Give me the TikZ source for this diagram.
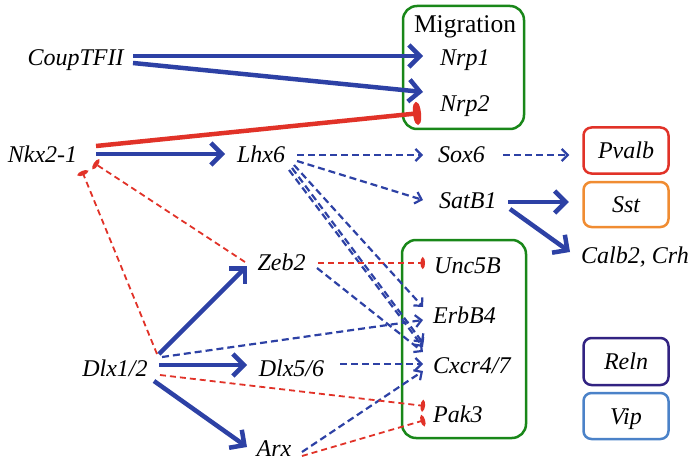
\documentclass[tikz,border=0pt]{standalone}
\usepackage{fontspec}
\setmainfont{Liberation Serif}
\usetikzlibrary{arrows.meta}
\definecolor{cblue}{RGB}{45,65,165}
\definecolor{cred}{RGB}{225,50,40}
\definecolor{cgreen}{RGB}{25,135,25}
\definecolor{corange}{RGB}{240,140,50}
\definecolor{cpurple}{RGB}{50,35,130}
\definecolor{clight}{RGB}{75,130,200}
\begin{document}
\begin{tikzpicture}[x=1pt,y=-1pt,
  lbl/.style={inner sep=0pt, font=\fontsize{24}{28}\selectfont\itshape},
  groupbox/.style={draw=cgreen, line width=2.5pt, rounded corners=14pt, inner sep=0pt},
  cellbox/.style={draw=#1, line width=2.5pt, rounded corners=8pt, minimum width=85pt, inner sep=0pt,
     font=\fontsize{24}{28}\selectfont\itshape, text height=16pt, text depth=0pt},
  actline/.style={draw=cblue, line width=4.5pt, -{Straight Barb[length=11pt,width=22pt]}},
  actdash/.style={draw=cblue, line width=2.2pt, dash pattern=on 7pt off 4pt, -{Straight Barb[length=6pt,width=12pt]}},
  inhline/.style={draw=cred, line width=4.5pt, -{Ellipse[length=8pt,width=22pt]}},
  inhdash/.style={draw=cred, line width=1.8pt, dash pattern=on 6pt off 4pt, -{Ellipse[length=4.5pt,width=11pt]}}
]
\useasboundingbox (0,0) rectangle (689,460);

% group boxes
\node[groupbox, minimum width=121pt, minimum height=123pt] (migbox) at (463.5,67.5) {};
\node[groupbox, minimum width=124pt, minimum height=198pt] (lowbox) at (464,339) {};
\node[inner sep=0pt, anchor=base, font=\fontsize{25.5}{30}\selectfont] (migr) at (465,33) {Migration};

% gene nodes
\node[lbl, anchor=base] (CoupTFII) at (75.5,66) {CoupTFII};
\node[lbl, anchor=base] (Nkx) at (42.5,162) {Nkx2-1};
\node[lbl, anchor=base] (Lhx6) at (261,162) {Lhx6};
\node[lbl, anchor=base] (Zeb2) at (281.5,270) {Zeb2};
\node[lbl, anchor=base] (Dlx12) at (115,376) {Dlx1/2};
\node[lbl, anchor=base] (Dlx56) at (291.5,376) {Dlx5/6};
\node[lbl, anchor=base] (Arx) at (274,456) {Arx};
\node[lbl, anchor=base west] (Nrp1) at (440,66) {Nrp1};
\node[lbl, anchor=base west] (Nrp2) at (440,111) {Nrp2};
\node[lbl, anchor=base west] (Sox6) at (438,162) {Sox6};
\node[lbl, anchor=base west] (SatB1) at (439,208) {SatB1};
\node[lbl, anchor=base west] (Unc5B) at (434,273) {Unc5B};
\node[lbl, anchor=base west] (ErbB4) at (433,323) {ErbB4};
\node[lbl, anchor=base west] (Cxcr) at (433,373) {Cxcr4/7};
\node[lbl, anchor=base west] (Pak3) at (433,422) {Pak3};
\node[lbl, anchor=base west] (Calb2) at (581,263) {Calb2, Crh};

% cell type boxes
\node[cellbox=cred, minimum height=46pt] (Pvalb) at (626,150.5) {Pvalb};
\node[cellbox=corange, minimum height=45pt] (Sst) at (626,204.5) {Sst};
\node[cellbox=cpurple, minimum height=47pt] (Reln) at (626,361.5) {Reln};
\node[cellbox=clight, minimum height=46pt] (Vip) at (626,416) {Vip};

% solid activations
\draw[actline] ([shift={(57.5,-10)}]CoupTFII.base) -- ([shift={(-17,-10)}]Nrp1.base west);
\draw[actline] ([shift={(57.5,-3)}]CoupTFII.base) -- ([shift={(-17,-19)}]Nrp2.base west);
\draw[actline] ([shift={(53.5,-8)}]Nkx.base) -- ([shift={(-36,-8)}]Lhx6.base);
\draw[actline] ([shift={(69,-6)}]SatB1.base west) -- ([shift={(-13.5,-2.5)}]Sst.west);
\draw[actline] ([shift={(71,1)}]SatB1.base west) -- ([shift={(-11,-11)}]Calb2.base west);
\draw[actline] ([shift={(44,-22)}]Dlx12.base) -- ([shift={(-34.5,-4)}]Zeb2.base);
\draw[actline] ([shift={(44,-11)}]Dlx12.base) -- ([shift={(-44.5,-11)}]Dlx56.base);
\draw[actline] ([shift={(39,5)}]Dlx12.base) -- ([shift={(-27,-9)}]Arx.base);

% solid inhibition
\draw[inhline] ([shift={(53.5,-16)}]Nkx.base) -- ([shift={(-19,2)}]Nrp2.base west);

% dashed activations
\draw[actdash] ([shift={(36,-7)}]Lhx6.base) -- ([shift={(-15,-7)}]Sox6.base west);
\draw[actdash] ([shift={(36,-1)}]Lhx6.base) -- ([shift={(-16,-8)}]SatB1.base west);
\draw[actdash] ([shift={(65,-7)}]Sox6.base west) -- ([shift={(-13,4.5)}]Pvalb.west);
\draw[actdash] ([shift={(33,3)}]Lhx6.base) -- ([shift={(-10,-16)}]ErbB4.base west);
\draw[actdash] ([shift={(31,6)}]Lhx6.base) -- ([shift={(-10,-30)}]Cxcr.base west);
\draw[actdash] ([shift={(28,8)}]Lhx6.base) -- ([shift={(-10,-26)}]Cxcr.base west);
\draw[actdash] ([shift={(35.5,-2)}]Zeb2.base) -- ([shift={(-10,-21)}]Cxcr.base west);
\draw[actdash] ([shift={(47,-19)}]Dlx12.base) -- ([shift={(-10,-3)}]ErbB4.base west);
\draw[actdash] ([shift={(48.5,-12)}]Dlx56.base) -- ([shift={(-10,-9)}]Cxcr.base west);
\draw[actdash] ([shift={(28,-4)}]Arx.base) -- ([shift={(-10,-2)}]Cxcr.base west);

% dashed inhibitions
\draw[inhdash] ([shift={(28,0)}]Arx.base) -- ([shift={(-8,-2)}]Pak3.base west);
\draw[inhdash] ([shift={(45,-1)}]Dlx12.base) -- ([shift={(-8,-16)}]Pak3.base west);
\draw[inhdash] ([shift={(36.5,-7)}]Zeb2.base) -- ([shift={(-9,-10)}]Unc5B.base west);
\draw[inhdash] ([shift={(-36.5,-8)}]Zeb2.base) -- ([shift={(51.5,1)}]Nkx.base);
\draw[inhdash] ([shift={(42,-22)}]Dlx12.base) -- ([shift={(39.5,9)}]Nkx.base);
\end{tikzpicture}
\end{document}
